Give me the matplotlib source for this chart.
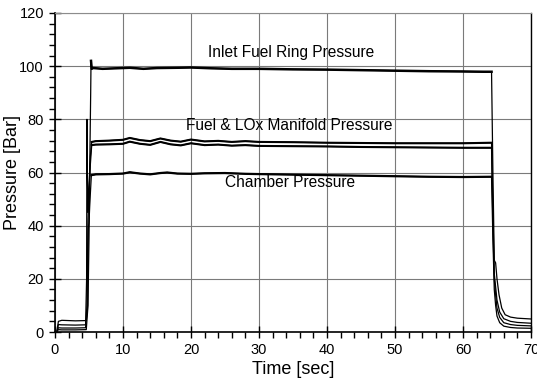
import matplotlib
matplotlib.use("Agg")
import matplotlib.pyplot as plt
import numpy as np
from matplotlib.ticker import MultipleLocator

plt.rcParams['font.family'] = ['Liberation Sans', 'DejaVu Sans']

# ---- data ----
t_inlet = [0.3, 0.5, 1.0, 3.0, 4.6, 4.85, 5.0, 5.15, 5.25, 5.3, 5.4, 5.6, 7, 9, 11, 13, 15, 18, 20, 23, 26, 30,
           35, 40, 45, 50, 55, 60, 63, 64.2, 64.4, 64.6, 64.8, 65.0, 65.3, 65.7, 66.2, 67, 68, 70]
p_inlet = [0.5, 4.0, 4.4, 4.2, 4.3, 10, 35, 70, 90, 102, 99.0, 99.3, 99.0, 99.2, 99.4, 99.0, 99.3, 99.4, 99.5, 99.2, 99.0, 99.0,
           98.8, 98.7, 98.5, 98.3, 98.1, 98.0, 97.9, 97.9, 60, 27, 26, 20, 14, 9, 6.5, 5.6, 5.2, 4.9]

t_manA = [0.3, 0.5, 1.0, 3.0, 4.5, 4.65, 4.7, 4.75, 4.85, 5.0, 5.2, 5.4, 6, 8, 10, 11, 12.5, 14, 15.5, 17, 18.5, 20, 22, 24,
          26, 28, 30, 35, 40, 45, 50, 55, 60, 64.2, 64.4, 64.6, 64.8, 65.0, 65.4, 66, 67, 68, 70]
p_manA = [0.3, 2.8, 2.7, 2.6, 2.7, 20, 80, 62, 45, 55, 66, 71.5, 71.8, 72.0, 72.3, 73.0, 72.2, 71.8, 72.8, 72.0, 71.6, 72.4, 71.7, 71.9,
          71.5, 71.8, 71.5, 71.4, 71.2, 71.1, 71.0, 71.0, 71.0, 71.2, 45, 22, 17, 12, 7.5, 5, 4, 3.6, 3.3]

t_manB = [0.3, 0.5, 1.0, 3.0, 4.5, 4.7, 4.85, 5.0, 5.2, 5.4, 6, 8, 10, 11, 12.5, 14, 15.5, 17, 18.5, 20, 22, 24,
          26, 28, 30, 35, 40, 45, 50, 55, 60, 64.2, 64.4, 64.6, 64.8, 65.0, 65.4, 66, 67, 68, 70]
p_manB = [0.3, 1.6, 1.5, 1.5, 1.6, 10, 42, 52, 63, 70.3, 70.5, 70.6, 70.8, 71.6, 70.8, 70.4, 71.5, 70.6, 70.2, 71.0, 70.3, 70.5,
          70.1, 70.3, 70.0, 69.9, 69.8, 69.6, 69.5, 69.4, 69.3, 69.3, 40, 20, 14, 9, 5.5, 3.5, 2.8, 2.5, 2.3]

t_ch = [0.3, 0.5, 1.0, 3.0, 4.6, 4.8, 4.9, 5.0, 5.1, 5.2, 5.35, 6, 8, 10, 11, 12.5, 14, 15.5, 16.5, 18, 20, 22, 25,
        28, 30, 35, 40, 45, 50, 55, 60, 64.2, 64.4, 64.6, 64.8, 65.0, 65.4, 66, 67, 68, 70]
p_ch = [0.2, 0.9, 0.8, 0.8, 0.9, 8, 39, 41, 47, 52, 59.0, 59.3, 59.4, 59.6, 60.1, 59.6, 59.3, 59.8, 60.0, 59.6, 59.5, 59.7, 59.8,
        59.5, 59.4, 59.2, 59.0, 58.8, 58.6, 58.4, 58.3, 58.4, 35, 16, 10, 6, 3.5, 2.2, 1.7, 1.5, 1.4]

labels = ["Inlet Fuel Ring Pressure", "Fuel & LOx Manifold Pressure", "Chamber Pressure"]
label_x = [34.7, 34.5, 34.5]
label_y = [105.3, 77.5, 56.3]

# ---- plot ----
fig = plt.figure(figsize=(5.37, 3.80), dpi=100)
ax = fig.add_axes([0.1024, 0.1263, 0.8864, 0.8395])

for t, p, lw in [(t_inlet, p_inlet, 1.8), (t_manA, p_manA, 1.5), (t_manB, p_manB, 1.5), (t_ch, p_ch, 1.6)]:
    t = np.asarray(t)
    p = np.asarray(p)
    # thin trace for the whole record (transients look thin in the reference)
    ax.plot(t, p, color='black', lw=0.9)
    # thicker (noisy) steady-state portion
    m = (t >= 5.3) & (t <= 64.2)
    ax.plot(t[m], p[m], color='black', lw=lw, solid_joinstyle='round')

for s, x, y in zip(labels, label_x, label_y):
    ax.text(x, y, s, ha='center', va='center', fontsize=11.2, color='black')

ax.set_xlim(0, 70)
ax.set_ylim(0, 120)
ax.xaxis.set_major_locator(MultipleLocator(10))
ax.xaxis.set_minor_locator(MultipleLocator(2))
ax.yaxis.set_major_locator(MultipleLocator(20))
ax.yaxis.set_minor_locator(MultipleLocator(4))
ax.grid(True, which='major', color='#7a7a7a', lw=0.8)
ax.set_axisbelow(True)
ax.tick_params(which='both', labelsize=10.5, top=False, right=False)
ax.tick_params(which='major', direction='inout', length=8, width=1, pad=4)
ax.tick_params(which='minor', direction='out', length=4, width=1)
ax.spines['top'].set_color('#8c8c8c')
ax.spines['top'].set_linewidth(0.8)
ax.spines['left'].set_linewidth(1.2)
ax.spines['bottom'].set_linewidth(1.2)
ax.spines['right'].set_linewidth(1.0)

ax.set_xlabel("Time [sec]", fontsize=13, labelpad=3)
ax.set_ylabel("Pressure [Bar]", fontsize=13, labelpad=-1)

fig.savefig("out.png", dpi=100)
